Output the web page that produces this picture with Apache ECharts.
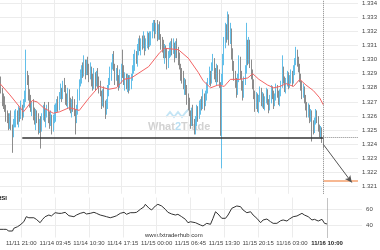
<!DOCTYPE html>
<html><head><meta charset="utf-8">
<script src="https://cdn.jsdelivr.net/npm/echarts@6/dist/echarts.min.js"></script>
<style>html,body{margin:0;padding:0;background:#fff}#c{width:380px;height:250px}</style>
</head><body><div id="c"></div>
<script>
// ---- data (15-minute bars) ----
const opens = [
1.3286,1.3283,1.3278,1.3272,1.3268,1.3265,1.3262,1.3258,1.3255,1.3259,
1.3252,1.3248,1.3254,1.3258,1.3262,1.3257,1.3263,1.3260,1.3266,1.3262,
1.3268,1.3272,1.3290,1.3285,1.3276,1.3270,1.3265,1.3268,1.3260,1.3256,
1.3262,1.3258,1.3252,1.3255,1.3254,1.3260,1.3264,1.3258,1.3262,1.3266,
1.3260,1.3255,1.3259,1.3252,1.3257,1.3262,1.3266,1.3270,1.3268,1.3274,
1.3278,1.3275,1.3281,1.3279,1.3274,1.3270,1.3276,1.3268,1.3264,1.3270,
1.3266,1.3262,1.3258,1.3266,1.3275,1.3283,1.3288,1.3294,1.3290,1.3297,
1.3292,1.3298,1.3294,1.3288,1.3293,1.3286,1.3281,1.3288,1.3284,1.3290,
1.3285,1.3280,1.3276,1.3270,1.3275,1.3268,1.3264,1.3270,1.3278,1.3284,
1.3290,1.3296,1.3300,1.3294,1.3288,1.3292,1.3286,1.3282,1.3288,1.3295,
1.3290,1.3284,1.3288,1.3282,1.3286,1.3280,1.3284,1.3288,1.3292,1.3298,
1.3304,1.3300,1.3307,1.3312,1.3308,1.3313,1.3310,1.3314,1.3309,1.3313,
1.3316,1.3311,1.3315,1.3318,1.3322,1.3325,1.3321,1.3324,1.3318,1.3322,
1.3316,1.3312,1.3308,1.3303,1.3308,1.3304,1.3298,1.3303,1.3307,1.3311,
1.3306,1.3309,1.3304,1.3311,1.3306,1.3300,1.3295,1.3290,1.3286,1.3281,
1.3284,1.3278,1.3273,1.3268,1.3262,1.3256,1.3262,1.3255,1.3250,1.3258,
1.3264,1.3260,1.3266,1.3270,1.3267,1.3273,1.3270,1.3276,1.3280,1.3284,
1.3290,1.3286,1.3294,1.3298,1.3292,1.3287,1.3293,1.3288,1.3282,1.3250,
1.3286,1.3300,1.3312,1.3322,1.3318,1.3330,1.3315,1.3320,1.3305,1.3296,
1.3290,1.3284,1.3278,1.3286,1.3300,1.3290,1.3282,1.3276,1.3284,1.3292,
1.3310,1.3300,1.3312,1.3298,1.3290,1.3283,1.3276,1.3268,1.3274,1.3266,
1.3272,1.3278,1.3270,1.3274,1.3268,1.3272,1.3276,1.3270,1.3266,1.3272,
1.3278,1.3275,1.3270,1.3274,1.3279,1.3276,1.3271,1.3276,1.3282,1.3292,
1.3286,1.3280,1.3284,1.3288,1.3282,1.3286,1.3290,1.3285,1.3292,1.3298,
1.3304,1.3300,1.3294,1.3288,1.3282,1.3276,1.3279,1.3272,1.3268,1.3262,
1.3266,1.3258,1.3262,1.3255,1.3250,1.3256,1.3262,1.3258,1.3252,1.3248,
1.3250,1.3244];
const closes = [
1.3283,1.3278,1.3272,1.3268,1.3265,1.3262,1.3258,1.3255,1.3259,1.3252,
1.3248,1.3254,1.3258,1.3262,1.3257,1.3263,1.3260,1.3266,1.3262,1.3268,
1.3272,1.3290,1.3285,1.3276,1.3270,1.3265,1.3268,1.3260,1.3256,1.3262,
1.3258,1.3252,1.3255,1.3254,1.3260,1.3264,1.3258,1.3262,1.3266,1.3260,
1.3255,1.3259,1.3252,1.3257,1.3262,1.3266,1.3270,1.3268,1.3274,1.3278,
1.3275,1.3281,1.3279,1.3274,1.3270,1.3276,1.3268,1.3264,1.3270,1.3266,
1.3262,1.3258,1.3266,1.3275,1.3283,1.3288,1.3294,1.3290,1.3297,1.3292,
1.3298,1.3294,1.3288,1.3293,1.3286,1.3281,1.3288,1.3284,1.3290,1.3285,
1.3280,1.3276,1.3270,1.3275,1.3268,1.3264,1.3270,1.3278,1.3284,1.3290,
1.3296,1.3300,1.3294,1.3288,1.3292,1.3286,1.3282,1.3288,1.3295,1.3290,
1.3284,1.3288,1.3282,1.3286,1.3280,1.3284,1.3288,1.3292,1.3298,1.3304,
1.3300,1.3307,1.3312,1.3308,1.3313,1.3310,1.3314,1.3309,1.3313,1.3316,
1.3311,1.3315,1.3318,1.3322,1.3325,1.3321,1.3324,1.3318,1.3322,1.3316,
1.3312,1.3308,1.3303,1.3308,1.3304,1.3298,1.3303,1.3307,1.3311,1.3306,
1.3309,1.3304,1.3311,1.3306,1.3300,1.3295,1.3290,1.3286,1.3281,1.3284,
1.3278,1.3273,1.3268,1.3262,1.3256,1.3262,1.3255,1.3250,1.3258,1.3264,
1.3260,1.3266,1.3270,1.3267,1.3273,1.3270,1.3276,1.3280,1.3284,1.3290,
1.3286,1.3294,1.3298,1.3292,1.3287,1.3293,1.3288,1.3282,1.3250,1.3286,
1.3300,1.3312,1.3322,1.3318,1.3330,1.3315,1.3320,1.3305,1.3296,1.3290,
1.3284,1.3278,1.3286,1.3300,1.3290,1.3282,1.3276,1.3284,1.3292,1.3310,
1.3300,1.3312,1.3298,1.3290,1.3283,1.3276,1.3268,1.3274,1.3266,1.3272,
1.3278,1.3270,1.3274,1.3268,1.3272,1.3276,1.3270,1.3266,1.3272,1.3278,
1.3275,1.3270,1.3274,1.3279,1.3276,1.3271,1.3276,1.3282,1.3292,1.3286,
1.3280,1.3284,1.3288,1.3282,1.3286,1.3290,1.3285,1.3292,1.3298,1.3304,
1.3300,1.3294,1.3288,1.3282,1.3276,1.3279,1.3272,1.3268,1.3262,1.3266,
1.3258,1.3262,1.3255,1.3250,1.3256,1.3262,1.3258,1.3252,1.3248,1.3250,
1.3244,1.3240];
const highs = [
1.3289,1.3288,1.3280,1.3276,1.3274,1.3268,1.3264,1.3262,1.3262,1.3264,
1.3254,1.3258,1.3264,1.3265,1.3264,1.3267,1.3266,1.3271,1.3268,1.3272,
1.3278,1.3307,1.3292,1.3289,1.3279,1.3275,1.3270,1.3272,1.3266,1.3265,
1.3264,1.3262,1.3258,1.3260,1.3262,1.3268,1.3270,1.3265,1.3268,1.3270,
1.3263,1.3264,1.3261,1.3261,1.3268,1.3269,1.3272,1.3274,1.3277,1.3283,
1.3280,1.3285,1.3287,1.3282,1.3276,1.3280,1.3279,1.3273,1.3272,1.3274,
1.3272,1.3265,1.3268,1.3279,1.3286,1.3293,1.3296,1.3298,1.3303,1.3300,
1.3300,1.3302,1.3297,1.3298,1.3295,1.3290,1.3294,1.3291,1.3292,1.3294,
1.3288,1.3285,1.3278,1.3279,1.3281,1.3271,1.3272,1.3282,1.3287,1.3295,
1.3298,1.3304,1.3306,1.3297,1.3294,1.3296,1.3289,1.3293,1.3297,1.3307,
1.3296,1.3291,1.3290,1.3290,1.3289,1.3289,1.3290,1.3296,1.3304,1.3307,
1.3306,1.3311,1.3315,1.3317,1.3315,1.3317,1.3320,1.3317,1.3315,1.3320,
1.3319,1.3320,1.3320,1.3326,1.3328,1.3328,1.3326,1.3328,1.3325,1.3327,
1.3318,1.3316,1.3314,1.3311,1.3310,1.3308,1.3306,1.3312,1.3313,1.3315,
1.3315,1.3312,1.3313,1.3315,1.3309,1.3305,1.3297,1.3294,1.3292,1.3287,
1.3286,1.3282,1.3276,1.3273,1.3264,1.3266,1.3268,1.3258,1.3260,1.3268,
1.3267,1.3271,1.3272,1.3274,1.3279,1.3276,1.3278,1.3284,1.3287,1.3295,
1.3292,1.3298,1.3304,1.3301,1.3294,1.3297,1.3296,1.3293,1.3284,1.3290,
1.3304,1.3316,1.3326,1.3325,1.3334,1.3332,1.3326,1.3322,1.3308,1.3299,
1.3292,1.3287,1.3290,1.3303,1.3302,1.3292,1.3285,1.3288,1.3296,1.3326,
1.3314,1.3316,1.3314,1.3300,1.3293,1.3286,1.3278,1.3277,1.3276,1.3275,
1.3281,1.3280,1.3277,1.3276,1.3274,1.3280,1.3279,1.3272,1.3275,1.3282,
1.3281,1.3278,1.3276,1.3283,1.3282,1.3278,1.3279,1.3285,1.3303,1.3295,
1.3288,1.3287,1.3292,1.3291,1.3289,1.3293,1.3292,1.3296,1.3301,1.3309,
1.3307,1.3302,1.3297,1.3290,1.3285,1.3283,1.3281,1.3275,1.3270,1.3269,
1.3268,1.3265,1.3264,1.3257,1.3259,1.3265,1.3264,1.3260,1.3254,1.3253,
1.3252,1.3246];
const lows = [
1.3279,1.3276,1.3267,1.3265,1.3263,1.3256,1.3255,1.3250,1.3251,1.3250,
1.3234,1.3245,1.3252,1.3252,1.3254,1.3252,1.3256,1.3258,1.3257,1.3259,
1.3266,1.3270,1.3282,1.3271,1.3266,1.3263,1.3260,1.3257,1.3254,1.3250,
1.3255,1.3247,1.3248,1.3237,1.3249,1.3257,1.3256,1.3252,1.3259,1.3255,
1.3251,1.3253,1.3247,1.3249,1.3255,1.3256,1.3263,1.3263,1.3264,1.3272,
1.3270,1.3272,1.3277,1.3268,1.3267,1.3265,1.3264,1.3262,1.3259,1.3263,
1.3260,1.3247,1.3255,1.3261,1.3271,1.3281,1.3283,1.3287,1.3288,1.3286,
1.3289,1.3289,1.3284,1.3286,1.3281,1.3278,1.3279,1.3278,1.3281,1.3280,
1.3276,1.3274,1.3265,1.3267,1.3266,1.3258,1.3261,1.3265,1.3274,1.3282,
1.3285,1.3293,1.3292,1.3282,1.3285,1.3281,1.3278,1.3280,1.3283,1.3287,
1.3282,1.3278,1.3279,1.3277,1.3276,1.3278,1.3279,1.3285,1.3290,1.3292,
1.3297,1.3295,1.3303,1.3306,1.3303,1.3307,1.3308,1.3303,1.3306,1.3308,
1.3307,1.3309,1.3310,1.3315,1.3320,1.3315,1.3318,1.3313,1.3314,1.3314,
1.3307,1.3305,1.3301,1.3297,1.3301,1.3293,1.3294,1.3301,1.3302,1.3303,
1.3304,1.3298,1.3301,1.3301,1.3296,1.3293,1.3285,1.3283,1.3279,1.3275,
1.3275,1.3268,1.3264,1.3260,1.3251,1.3253,1.3253,1.3247,1.3247,1.3253,
1.3256,1.3258,1.3261,1.3264,1.3265,1.3264,1.3267,1.3271,1.3276,1.3282,
1.3281,1.3283,1.3292,1.3286,1.3284,1.3282,1.3284,1.3280,1.3246,1.3223,
1.3282,1.3296,1.3308,1.3312,1.3314,1.3310,1.3311,1.3300,1.3292,1.3285,
1.3280,1.3273,1.3275,1.3284,1.3286,1.3278,1.3271,1.3273,1.3282,1.3290,
1.3296,1.3297,1.3294,1.3286,1.3279,1.3272,1.3263,1.3265,1.3263,1.3262,
1.3270,1.3267,1.3266,1.3265,1.3264,1.3269,1.3268,1.3262,1.3264,1.3269,
1.3272,1.3265,1.3267,1.3271,1.3273,1.3268,1.3267,1.3274,1.3280,1.3283,
1.3277,1.3276,1.3281,1.3279,1.3280,1.3283,1.3281,1.3283,1.3289,1.3296,
1.3295,1.3291,1.3284,1.3278,1.3272,1.3273,1.3269,1.3264,1.3259,1.3259,
1.3255,1.3256,1.3242,1.3247,1.3248,1.3254,1.3255,1.3249,1.3245,1.3244,
1.3241,1.3237];
// moving average, read at points along the red line: [bar index, price]
const maPoints = [[0,1.3283],[8,1.3275],[19,1.3263],[26,1.3271],[30,1.3270],[35,1.3266],[43,1.3262],[48,1.3263],[56,1.3266],[64,1.3264],[72,1.3273],[80,1.3281],[88,1.3279],[94,1.3280],[100,1.3286],[106,1.3287],[120,1.3295],[129,1.3305],[133,1.3308],[144,1.3307],[152,1.3301],[160,1.3291],[164,1.3285],[170,1.3280],[176,1.3282],[181,1.3281],[186,1.3286],[194,1.3286],[200,1.3287],[204,1.3290],[209,1.3286],[216,1.3282],[221,1.3280],[226,1.3281],[231,1.3283],[237,1.3281],[242,1.3286],[247,1.3282],[253,1.3278],[258,1.3273],[261,1.3268]];
// RSI: [bar index, value]
const rsiPoints = [[0,35.2],[3,35.2],[5,35.2],[7,33.1],[8,35.2],[10,33.1],[11,36.5],[14,38.5],[16,40.6],[19,44.7],[21,51],[23,49.7],[27,49.7],[29,47.7],[32,43.5],[34,47.7],[36,51],[39,53.1],[41,51.9],[44,56],[47,55.2],[49,55.2],[52,56.5],[55,52.2],[56,49.7],[59,51],[61,53.1],[64,55.2],[67,56.5],[69,54.4],[72,55.2],[75,56.5],[77,55.2],[80,53.1],[83,51.9],[85,51],[88,49.7],[91,51],[93,52.2],[96,55.2],[99,56.5],[101,54],[104,56],[107,56],[109,56.5],[112,60.2],[115,63.5],[116,66.5],[119,61.5],[121,59.4],[124,64.4],[126,66.5],[129,64.4],[132,60.2],[134,56.5],[137,54.4],[140,53.1],[142,54],[145,51],[148,47.7],[150,43.5],[152,44.7],[156,43.5],[160,40.6],[162,39.4],[165,42.7],[168,41.5],[170,49],[172,57.2],[174,54.4],[177,49],[180,49],[182,53.1],[185,61.5],[189,64.4],[192,63.5],[194,59.4],[197,56],[200,57.2],[202,53.1],[205,49],[208,43.5],[210,46.9],[213,48.1],[216,44.7],[218,42.7],[221,42.7],[224,46],[226,46.9],[229,45.6],[231,48.1],[234,51],[237,51.9],[241,55.2],[243,53.1],[246,51],[249,46.9],[251,47.7],[254,45.6],[257,47.7],[259,42.7],[261,41.9]];
const tickIndex = [17,44,71,98,125,152,179,206,233,261];
const tickLabels = ['11/11 21:00','11/14 03:45','11/14 10:30','11/14 17:15','11/15 00:00','11/15 06:45','11/15 13:30','11/15 20:15','11/16 03:00','11/16 10:00'];
const supportLevel = 1.3245;
const supportStart = 18;
const targetLevel = 1.3214;
const arrowEnd = [284, 1.3213];
const lastIndex = 261;
const slotCount = 290;

// ---- chart ----
const FONT = '"Liberation Sans", Arial, sans-serif';
const cats = Array.from({length: slotCount}, (_, i) => String(i));
const labelAt = {};
tickIndex.forEach((t, k) => { labelAt[t] = tickLabels[k]; });
const gridTicks = tickIndex.filter(t => t !== lastIndex);
const candles = closes.map((c, i) => [opens[i], c, lows[i], highs[i]]);

function xAxisBase(gi) {
  return {
    type: 'category', gridIndex: gi, data: cats, boundaryGap: false,
    axisLine: {show: false}, axisTick: {show: false},
    splitLine: {show: true, interval: (i) => gridTicks.includes(i), lineStyle: {color: '#ececec', width: 1}}
  };
}
const x0 = xAxisBase(0); x0.axisLabel = {show: false};
const x1 = xAxisBase(1);
x1.axisLabel = {
  show: true, interval: (i) => labelAt[i] !== undefined,
  formatter: (v, i) => (i === lastIndex ? '{b|' + labelAt[i] + '}' : labelAt[i]),
  fontSize: 6, color: '#444', margin: 3, fontFamily: FONT,
  rich: {b: {fontWeight: 'bold', color: '#222', fontSize: 6, fontFamily: FONT}}
};

const chart = echarts.init(document.getElementById('c'), null, {renderer: 'canvas', width: 380, height: 250});
chart.setOption({
  animation: false,
  backgroundColor: '#fff',
  grid: [
    {left: -0.3, top: 0, width: 362.4, height: 193.8},
    {left: -0.3, top: 197.5, width: 362.4, height: 40}
  ],
  xAxis: [x0, x1],
  yAxis: [
    {type: 'value', gridIndex: 0, position: 'right', min: 1.3205, max: 1.334216, splitNumber: 14,
     minInterval: 0.001, maxInterval: 0.001, scale: true,
     axisLine: {show: false}, axisTick: {show: false},
     axisLabel: {fontSize: 6, color: '#444', margin: 4, fontFamily: FONT, formatter: v => v.toFixed(3), showMinLabel: false, showMaxLabel: false},
     splitLine: {lineStyle: {color: '#ececec'}, showMinLine: false, showMaxLine: false}},
    {type: 'value', gridIndex: 1, position: 'right', min: 25, max: 75, splitNumber: 3,
     minInterval: 20, maxInterval: 20,
     axisLine: {show: false}, axisTick: {show: false},
     axisLabel: {fontSize: 6, color: '#444', margin: 4, fontFamily: FONT, showMinLabel: false, showMaxLabel: false},
     splitLine: {lineStyle: {color: '#ececec'}, showMinLine: false, showMaxLine: false}}
  ],
  graphic: [
    {type: 'polyline', z: 0, silent: true, shape: {points: [[166,117],[170,112],[174,117],[178,112],[182,117],[186,112],[190,108]]}, style: {stroke: '#c4e5f5', lineWidth: 2, fill: null}},
    {type: 'text', z: 0, silent: true, left: 148, top: 121,
     style: {text: '{a|What}{b|2}{a|Trade}', rich: {a: {fill: '#d2d2d2', font: 'bold 11px ' + FONT}, b: {fill: '#b8def2', font: 'bold 11px ' + FONT}}}},
    {type: 'text', left: -3, top: 195, style: {text: 'RSI', fill: '#111', font: 'bold 6px ' + FONT}},
    {type: 'text', left: 145, top: 232, style: {text: 'www.fxtraderhub.com', fill: '#333', font: '6px ' + FONT}}
  ],
  series: [
    {type: 'candlestick', xAxisIndex: 0, yAxisIndex: 0, data: candles, barWidth: 1.3,
     itemStyle: {color: '#62bfe9', color0: '#8c8c8c', borderColor: '#62bfe9', borderColor0: '#8c8c8c', borderWidth: 1},
     markLine: {silent: true, symbol: ['none', 'none'], label: {show: false}, animation: false,
       data: [
         [{coord: [supportStart, supportLevel], lineStyle: {color: '#333', width: 1.5, type: 'solid'}}, {coord: [lastIndex, supportLevel]}],
         [{coord: [lastIndex, supportLevel], lineStyle: {color: '#888', width: 1, type: 'dotted'}}, {coord: [slotCount - 1, supportLevel]}],
         [{coord: [lastIndex, targetLevel], lineStyle: {color: '#f5a06e', width: 1.5, type: 'solid'}}, {coord: [slotCount - 1, targetLevel]}],
         [{coord: [lastIndex, closes[closes.length - 1]], symbol: 'none', lineStyle: {color: '#555', width: 1, type: 'solid'}}, {coord: arrowEnd, symbol: 'arrow', symbolSize: [5, 7]}],
         {xAxis: lastIndex, lineStyle: {color: '#888', width: 1, type: 'dotted'}}
       ]}},
    {type: 'line', xAxisIndex: 0, yAxisIndex: 0, data: maPoints, showSymbol: false, silent: true,
     lineStyle: {color: '#f26464', width: 1}},
    {type: 'line', xAxisIndex: 1, yAxisIndex: 1, data: rsiPoints, showSymbol: false, silent: true,
     lineStyle: {color: '#333', width: 1},
     markLine: {silent: true, symbol: ['none', 'none'], label: {show: false},
       data: [{xAxis: lastIndex, lineStyle: {color: '#888', width: 1, type: 'dotted'}}]}}
  ]
});
</script>
</body></html>
